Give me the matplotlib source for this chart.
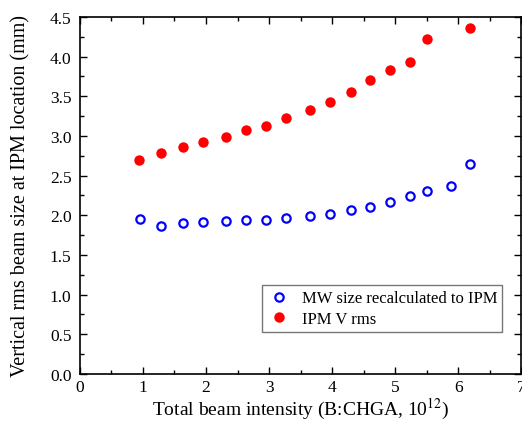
import matplotlib
matplotlib.use('Agg')
import matplotlib.pyplot as plt
from matplotlib.ticker import MultipleLocator

# values
mw_x = [0.95, 1.28, 1.63, 1.95, 2.31, 2.63, 2.95, 3.27, 3.65, 3.96, 4.29, 4.60, 4.92, 5.23, 5.51, 5.88, 6.18]
mw_y = [1.95, 1.87, 1.90, 1.92, 1.93, 1.935, 1.945, 1.965, 1.99, 2.02, 2.07, 2.11, 2.165, 2.24, 2.30, 2.37, 2.64]
ipm_x = [0.94, 1.28, 1.63, 1.95, 2.31, 2.63, 2.95, 3.27, 3.65, 3.96, 4.29, 4.60, 4.92, 5.23, 5.51, 6.18]
ipm_y = [2.70, 2.78, 2.86, 2.92, 2.99, 3.07, 3.13, 3.23, 3.33, 3.43, 3.55, 3.70, 3.83, 3.93, 4.22, 4.36]

plt.rcParams['font.family'] = ['Liberation Serif', 'DejaVu Serif']
plt.rcParams['mathtext.fontset'] = 'stix'

fig = plt.figure(figsize=(5.22, 4.27), dpi=100)
ax = fig.add_axes([0.153, 0.122, 0.846, 0.836])

ax.plot(mw_x, mw_y, 'o', ls='none', mfc='none', mec='#0000ff', mew=1.6, ms=6,
        label='MW size recalculated to IPM')
ax.plot(ipm_x, ipm_y, 'o', ls='none', color='#ff0000', ms=7.5, mec='none',
        label='IPM V rms')

ax.set_xlim(0, 7)
ax.set_ylim(0, 4.5)
ax.xaxis.set_major_locator(MultipleLocator(1))
ax.xaxis.set_minor_locator(MultipleLocator(0.5))
ax.yaxis.set_major_locator(MultipleLocator(0.5))
ax.yaxis.set_minor_locator(MultipleLocator(0.25))
ax.yaxis.set_major_formatter(matplotlib.ticker.FormatStrFormatter('%.1f'))
ax.tick_params(which='both', direction='in', top=True, right=True, labelsize=12.5, width=1)
ax.tick_params(which='major', length=5)
ax.tick_params(which='minor', length=3)
ax.tick_params(axis='y', pad=6)
for s in ax.spines.values():
    s.set_linewidth(1.2)

ax.set_xlabel('Total beam intensity (B:CHGA, 10$^{12}$)', fontsize=14, labelpad=1)
ax.set_ylabel('Vertical rms beam size at IPM location (mm)', fontsize=14.5, labelpad=14)

leg = ax.legend(loc='lower right', bbox_to_anchor=(0.975, 0.095), fontsize=12,
                frameon=True, fancybox=False, handletextpad=0.6, borderpad=0.3,
                labelspacing=0.25, handlelength=1.5)
leg.get_frame().set_edgecolor('#555555')
leg.get_frame().set_linewidth(1)

fig.savefig('out.png', dpi=100)
